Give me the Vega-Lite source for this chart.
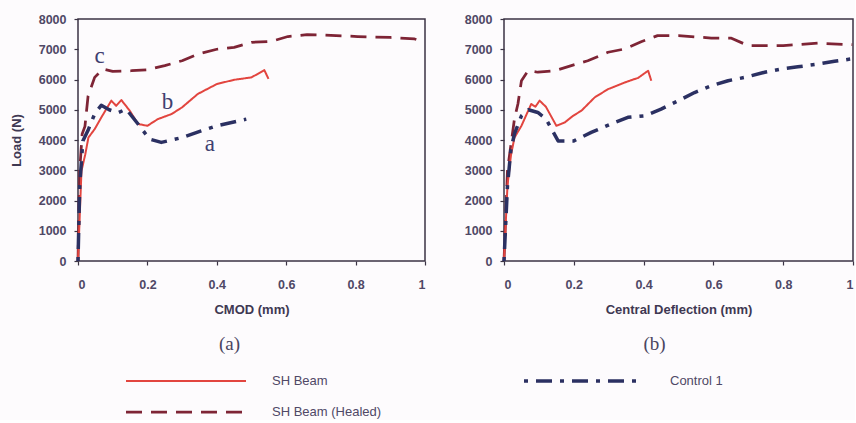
{
  "$schema": "https://vega.github.io/schema/vega-lite/v6.json",
  "background": "#fdfbfd",
  "padding": {"left": 9, "top": 12, "right": 0, "bottom": 0},
  "spacing": 79,
  "bounds": "flush",
  "datasets": {
    "a": [
      {"series": "SH Beam (Healed)", "x": 0, "y": 0},
      {"series": "SH Beam (Healed)", "x": 0.005, "y": 3000},
      {"series": "SH Beam (Healed)", "x": 0.012, "y": 4200},
      {"series": "SH Beam (Healed)", "x": 0.02, "y": 4450},
      {"series": "SH Beam (Healed)", "x": 0.029, "y": 5450},
      {"series": "SH Beam (Healed)", "x": 0.048, "y": 6070},
      {"series": "SH Beam (Healed)", "x": 0.072, "y": 6350},
      {"series": "SH Beam (Healed)", "x": 0.1, "y": 6270},
      {"series": "SH Beam (Healed)", "x": 0.154, "y": 6290},
      {"series": "SH Beam (Healed)", "x": 0.2, "y": 6320},
      {"series": "SH Beam (Healed)", "x": 0.25, "y": 6460},
      {"series": "SH Beam (Healed)", "x": 0.3, "y": 6620},
      {"series": "SH Beam (Healed)", "x": 0.345, "y": 6840},
      {"series": "SH Beam (Healed)", "x": 0.4, "y": 7000},
      {"series": "SH Beam (Healed)", "x": 0.45, "y": 7060},
      {"series": "SH Beam (Healed)", "x": 0.5, "y": 7230},
      {"series": "SH Beam (Healed)", "x": 0.557, "y": 7260},
      {"series": "SH Beam (Healed)", "x": 0.605, "y": 7420},
      {"series": "SH Beam (Healed)", "x": 0.66, "y": 7480},
      {"series": "SH Beam (Healed)", "x": 0.71, "y": 7470},
      {"series": "SH Beam (Healed)", "x": 0.806, "y": 7420},
      {"series": "SH Beam (Healed)", "x": 0.9, "y": 7390},
      {"series": "SH Beam (Healed)", "x": 0.97, "y": 7340},
      {"series": "SH Beam (Healed)", "x": 0.995, "y": 7250},
      {"series": "SH Beam", "x": 0, "y": 0},
      {"series": "SH Beam", "x": 0.01, "y": 2980},
      {"series": "SH Beam", "x": 0.021, "y": 3530},
      {"series": "SH Beam", "x": 0.03, "y": 4080},
      {"series": "SH Beam", "x": 0.048, "y": 4360},
      {"series": "SH Beam", "x": 0.07, "y": 4800},
      {"series": "SH Beam", "x": 0.096, "y": 5300},
      {"series": "SH Beam", "x": 0.11, "y": 5130},
      {"series": "SH Beam", "x": 0.125, "y": 5320},
      {"series": "SH Beam", "x": 0.149, "y": 4970},
      {"series": "SH Beam", "x": 0.173, "y": 4530},
      {"series": "SH Beam", "x": 0.2, "y": 4470},
      {"series": "SH Beam", "x": 0.23, "y": 4690},
      {"series": "SH Beam", "x": 0.27, "y": 4860},
      {"series": "SH Beam", "x": 0.3, "y": 5080},
      {"series": "SH Beam", "x": 0.345, "y": 5520},
      {"series": "SH Beam", "x": 0.4, "y": 5850},
      {"series": "SH Beam", "x": 0.45, "y": 5990},
      {"series": "SH Beam", "x": 0.5, "y": 6070},
      {"series": "SH Beam", "x": 0.537, "y": 6310},
      {"series": "SH Beam", "x": 0.549, "y": 6020},
      {"series": "Control 1", "x": 0, "y": 0},
      {"series": "Control 1", "x": 0.005, "y": 2500},
      {"series": "Control 1", "x": 0.014, "y": 3970},
      {"series": "Control 1", "x": 0.03, "y": 4350},
      {"series": "Control 1", "x": 0.048, "y": 4860},
      {"series": "Control 1", "x": 0.067, "y": 5150},
      {"series": "Control 1", "x": 0.09, "y": 5000},
      {"series": "Control 1", "x": 0.115, "y": 4900},
      {"series": "Control 1", "x": 0.139, "y": 5020},
      {"series": "Control 1", "x": 0.173, "y": 4530},
      {"series": "Control 1", "x": 0.206, "y": 4030},
      {"series": "Control 1", "x": 0.24, "y": 3920},
      {"series": "Control 1", "x": 0.3, "y": 4080},
      {"series": "Control 1", "x": 0.355, "y": 4300},
      {"series": "Control 1", "x": 0.4, "y": 4470},
      {"series": "Control 1", "x": 0.485, "y": 4690}
    ],
    "b": [
      {"series": "SH Beam (Healed)", "x": 0, "y": 0},
      {"series": "SH Beam (Healed)", "x": 0.01, "y": 3000},
      {"series": "SH Beam (Healed)", "x": 0.03, "y": 4700},
      {"series": "SH Beam (Healed)", "x": 0.04, "y": 5200},
      {"series": "SH Beam (Healed)", "x": 0.05, "y": 5960},
      {"series": "SH Beam (Healed)", "x": 0.069, "y": 6290},
      {"series": "SH Beam (Healed)", "x": 0.097, "y": 6240},
      {"series": "SH Beam (Healed)", "x": 0.145, "y": 6290},
      {"series": "SH Beam (Healed)", "x": 0.193, "y": 6460},
      {"series": "SH Beam (Healed)", "x": 0.24, "y": 6620},
      {"series": "SH Beam (Healed)", "x": 0.298, "y": 6900},
      {"series": "SH Beam (Healed)", "x": 0.346, "y": 7010},
      {"series": "SH Beam (Healed)", "x": 0.393, "y": 7250},
      {"series": "SH Beam (Healed)", "x": 0.44, "y": 7450},
      {"series": "SH Beam (Healed)", "x": 0.5, "y": 7450},
      {"series": "SH Beam (Healed)", "x": 0.594, "y": 7370},
      {"series": "SH Beam (Healed)", "x": 0.65, "y": 7370},
      {"series": "SH Beam (Healed)", "x": 0.7, "y": 7120},
      {"series": "SH Beam (Healed)", "x": 0.8, "y": 7120},
      {"series": "SH Beam (Healed)", "x": 0.9, "y": 7200},
      {"series": "SH Beam (Healed)", "x": 0.998, "y": 7150},
      {"series": "SH Beam", "x": 0, "y": 0},
      {"series": "SH Beam", "x": 0.01, "y": 2500},
      {"series": "SH Beam", "x": 0.02, "y": 3500},
      {"series": "SH Beam", "x": 0.03, "y": 4080},
      {"series": "SH Beam", "x": 0.05, "y": 4470},
      {"series": "SH Beam", "x": 0.078, "y": 5190},
      {"series": "SH Beam", "x": 0.09, "y": 5100},
      {"series": "SH Beam", "x": 0.102, "y": 5300},
      {"series": "SH Beam", "x": 0.12, "y": 5100},
      {"series": "SH Beam", "x": 0.15, "y": 4470},
      {"series": "SH Beam", "x": 0.174, "y": 4580},
      {"series": "SH Beam", "x": 0.198, "y": 4800},
      {"series": "SH Beam", "x": 0.222, "y": 4970},
      {"series": "SH Beam", "x": 0.26, "y": 5410},
      {"series": "SH Beam", "x": 0.298, "y": 5680},
      {"series": "SH Beam", "x": 0.346, "y": 5900},
      {"series": "SH Beam", "x": 0.37, "y": 6000},
      {"series": "SH Beam", "x": 0.384, "y": 6050},
      {"series": "SH Beam", "x": 0.413, "y": 6290},
      {"series": "SH Beam", "x": 0.422, "y": 5960},
      {"series": "Control 1", "x": 0, "y": 0},
      {"series": "Control 1", "x": 0.01, "y": 2500},
      {"series": "Control 1", "x": 0.02, "y": 3700},
      {"series": "Control 1", "x": 0.03, "y": 4200},
      {"series": "Control 1", "x": 0.05, "y": 4800},
      {"series": "Control 1", "x": 0.07, "y": 5000},
      {"series": "Control 1", "x": 0.097, "y": 4910},
      {"series": "Control 1", "x": 0.12, "y": 4700},
      {"series": "Control 1", "x": 0.155, "y": 3970},
      {"series": "Control 1", "x": 0.2, "y": 3970},
      {"series": "Control 1", "x": 0.25, "y": 4250},
      {"series": "Control 1", "x": 0.307, "y": 4530},
      {"series": "Control 1", "x": 0.355, "y": 4750},
      {"series": "Control 1", "x": 0.403, "y": 4800},
      {"series": "Control 1", "x": 0.45, "y": 5020},
      {"series": "Control 1", "x": 0.5, "y": 5300},
      {"series": "Control 1", "x": 0.546, "y": 5570},
      {"series": "Control 1", "x": 0.594, "y": 5790},
      {"series": "Control 1", "x": 0.642, "y": 5960},
      {"series": "Control 1", "x": 0.69, "y": 6070},
      {"series": "Control 1", "x": 0.747, "y": 6240},
      {"series": "Control 1", "x": 0.795, "y": 6350},
      {"series": "Control 1", "x": 0.842, "y": 6420},
      {"series": "Control 1", "x": 0.9, "y": 6510},
      {"series": "Control 1", "x": 0.947, "y": 6600},
      {"series": "Control 1", "x": 0.995, "y": 6680}
    ],
    "labels": [
      {"t": "c", "x": 0.062, "y": 6790},
      {"t": "b", "x": 0.258, "y": 5240},
      {"t": "a", "x": 0.38, "y": 3880}
    ]
  },
  "config": {
    "font": "Liberation Sans",
    "view": {"stroke": "#3b3344", "strokeWidth": 1.5},
    "axis": {
      "domain": false,
      "grid": false,
      "labelOverlap": false,
      "labelFont": "Liberation Sans",
      "labelFontSize": 12.5,
      "labelFontWeight": "bold",
      "labelColor": "#4f4866",
      "tickColor": "#3b3344",
      "tickSize": 4,
      "tickWidth": 1.2,
      "titleFont": "Liberation Sans",
      "titleFontSize": 13,
      "titleFontWeight": "bold",
      "titleColor": "#3f3852"
    },
    "legend": {
      "orient": "none",
      "legendX": 46,
      "legendY": 354,
      "columns": 2,
      "columnPadding": 140,
      "rowPadding": 15,
      "clipHeight": 16,
      "symbolType": "stroke",
      "symbolSize": 14400,
      "labelOffset": 24,
      "labelFont": "Liberation Sans",
      "labelFontSize": 13,
      "labelColor": "#4f4866",
      "title": null
    },
    "title": {"font": "Liberation Serif", "fontSize": 19, "fontWeight": "normal", "color": "#4a4560", "orient": "bottom", "offset": 18, "frame": "group"}
  },
  "hconcat": [
    {
      "width": 347,
      "height": 242,
      "title": {"text": "(a)", "dx": -22},
      "encoding": {
        "x": {"field": "x", "type": "quantitative", "scale": {"domain": [0, 1], "nice": false}, "axis": {"values": [0, 0.2, 0.4, 0.6, 0.8, 1], "format": "~g", "title": "CMOD (mm)", "labelPadding": 13, "titlePadding": 13}},
        "y": {"field": "y", "type": "quantitative", "scale": {"domain": [0, 8000], "nice": false}, "axis": {"values": [0, 1000, 2000, 3000, 4000, 5000, 6000, 7000, 8000], "format": "d", "title": "Load (N)", "labelPadding": 8, "titlePadding": 15}}
      },
      "layer": [
        {
          "data": {"name": "a"},
          "mark": {"type": "line", "strokeCap": "butt", "strokeJoin": "round"},
          "encoding": {
            "color": {"field": "series", "type": "nominal", "scale": {"domain": ["SH Beam", "SH Beam (Healed)", "Control 1"], "range": ["#e2453f", "#7e2435", "#2b3062"]},
              "legend": {"encode": {"symbols": {"update": {
                "strokeDash": {"signal": "datum.value === 'Control 1' ? [5, 22, 24, 18] : datum.value === 'SH Beam (Healed)' ? [28, 17] : [1, 0]"},
                "strokeWidth": {"signal": "datum.value === 'Control 1' ? 4 : datum.value === 'SH Beam (Healed)' ? 5 : 3"}
              }}}}},
            "strokeDash": {"field": "series", "type": "nominal", "scale": {"domain": ["SH Beam", "SH Beam (Healed)", "Control 1"], "range": [[1, 0], [16, 9], [4, 8, 16, 8]]},
              "legend": {"encode": {"symbols": {"update": {
                "strokeDash": {"signal": "datum.value === 'Control 1' ? [5, 22, 24, 18] : datum.value === 'SH Beam (Healed)' ? [28, 17] : [1, 0]"},
                "strokeWidth": {"signal": "datum.value === 'Control 1' ? 4 : datum.value === 'SH Beam (Healed)' ? 5 : 3"}
              }}}}},
            "strokeWidth": {"field": "series", "type": "nominal", "scale": {"domain": ["SH Beam", "SH Beam (Healed)", "Control 1"], "range": [2, 3.5, 3.2]},
              "legend": {"encode": {"symbols": {"update": {
                "strokeDash": {"signal": "datum.value === 'Control 1' ? [5, 22, 24, 18] : datum.value === 'SH Beam (Healed)' ? [28, 17] : [1, 0]"},
                "strokeWidth": {"signal": "datum.value === 'Control 1' ? 4 : datum.value === 'SH Beam (Healed)' ? 5 : 3"}
              }}}}}
          }
        },
        {
          "data": {"name": "labels"},
          "mark": {"type": "text", "font": "Liberation Serif", "fontSize": 23, "color": "#3f4070"},
          "encoding": {
            "text": {"field": "t"}
          }
        }
      ]
    },
    {
      "width": 349,
      "height": 242,
      "title": {"text": "(b)", "dx": -24},
      "data": {"name": "b"},
      "mark": {"type": "line", "strokeCap": "butt", "strokeJoin": "round"},
      "encoding": {
        "x": {"field": "x", "type": "quantitative", "scale": {"domain": [0, 1], "nice": false}, "axis": {"values": [0, 0.2, 0.4, 0.6, 0.8, 1], "format": "~g", "title": "Central Deflection (mm)", "labelPadding": 13, "titlePadding": 13}},
        "y": {"field": "y", "type": "quantitative", "scale": {"domain": [0, 8000], "nice": false}, "axis": {"values": [0, 1000, 2000, 3000, 4000, 5000, 6000, 7000, 8000], "format": "d", "title": null, "labelPadding": 8}},
        "color": {"field": "series", "type": "nominal", "scale": {"domain": ["SH Beam", "SH Beam (Healed)", "Control 1"], "range": ["#e2453f", "#7e2435", "#2b3062"]},
          "legend": {"encode": {"symbols": {"update": {
            "strokeDash": {"signal": "datum.value === 'Control 1' ? [5, 22, 24, 18] : datum.value === 'SH Beam (Healed)' ? [28, 17] : [1, 0]"},
            "strokeWidth": {"signal": "datum.value === 'Control 1' ? 4 : datum.value === 'SH Beam (Healed)' ? 5 : 3"}
          }}}}},
        "strokeDash": {"field": "series", "type": "nominal", "scale": {"domain": ["SH Beam", "SH Beam (Healed)", "Control 1"], "range": [[1, 0], [16, 9], [4, 8, 16, 8]]},
          "legend": {"encode": {"symbols": {"update": {
            "strokeDash": {"signal": "datum.value === 'Control 1' ? [5, 22, 24, 18] : datum.value === 'SH Beam (Healed)' ? [28, 17] : [1, 0]"},
            "strokeWidth": {"signal": "datum.value === 'Control 1' ? 4 : datum.value === 'SH Beam (Healed)' ? 5 : 3"}
          }}}}},
        "strokeWidth": {"field": "series", "type": "nominal", "scale": {"domain": ["SH Beam", "SH Beam (Healed)", "Control 1"], "range": [2, 3.5, 3.2]},
          "legend": {"encode": {"symbols": {"update": {
            "strokeDash": {"signal": "datum.value === 'Control 1' ? [5, 22, 24, 18] : datum.value === 'SH Beam (Healed)' ? [28, 17] : [1, 0]"},
            "strokeWidth": {"signal": "datum.value === 'Control 1' ? 4 : datum.value === 'SH Beam (Healed)' ? 5 : 3"}
          }}}}}
      }
    }
  ]
}
